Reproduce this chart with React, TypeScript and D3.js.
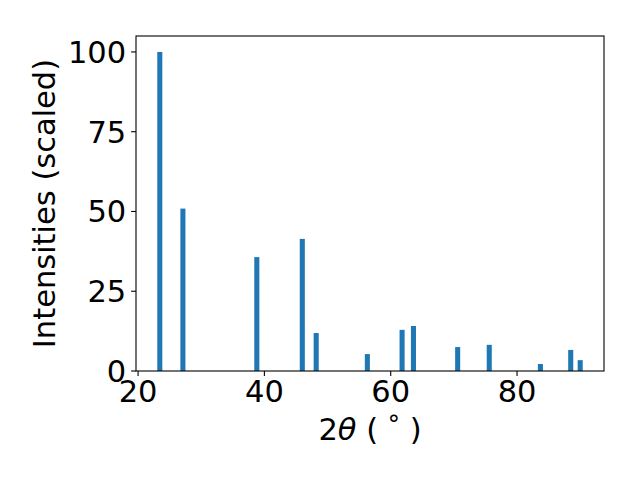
import React from "react";
import * as d3 from "d3";

const twoTheta: number[] = [23.44, 27.1, 38.8, 46.0, 48.2, 56.3, 61.8, 63.6, 70.6, 75.6, 83.7, 88.5, 90.0];
const intensities: number[] = [100, 50.9, 35.7, 41.4, 11.9, 5.3, 12.9, 14.1, 7.5, 8.2, 2.2, 6.6, 3.4];
const xTicks: number[] = [20, 40, 60, 80];
const yTicks: number[] = [0, 25, 50, 75, 100];

const W = 640, H = 480;
const left = 136, right = 604, top = 36, bottom = 371;
const barW = 0.8;
const FONT = "'DejaVu Sans', sans-serif";
const FS = 30.5;
const BLUE = "#1f77b4";

export default function App() {
  const dmin = (d3.min(twoTheta) as number) - barW / 2;
  const dmax = (d3.max(twoTheta) as number) + barW / 2;
  const pad = (dmax - dmin) * 0.05;
  const x = d3.scaleLinear().domain([dmin - pad, dmax + pad]).range([left, right]);
  const ymax = (d3.max(intensities) as number) * 1.05;
  const y = d3.scaleLinear().domain([0, ymax]).range([bottom, top]);

  return (
    <svg width={W} height={H} style={{ position: "absolute", left: 0, top: 0, background: "#fff" }}>
      <rect x={0} y={0} width={W} height={H} fill="#fff" />
      {twoTheta.map((t, i) => (
        <rect
          key={i}
          x={x(t - barW / 2)}
          width={x(t + barW / 2) - x(t - barW / 2)}
          y={y(intensities[i])}
          height={y(0) - y(intensities[i])}
          fill={BLUE}
        />
      ))}
      <rect x={left} y={top} width={right - left} height={bottom - top} fill="none" stroke="#000" strokeWidth={1.1} />
      {xTicks.map((t) => (
        <g key={t}>
          <line x1={x(t)} x2={x(t)} y1={bottom} y2={bottom + 4.9} stroke="#000" strokeWidth={1.1} />
          <text x={x(t)} y={402} textAnchor="middle" fontFamily={FONT} fontSize={FS} fill="#000">
            {t}
          </text>
        </g>
      ))}
      {yTicks.map((t) => (
        <g key={t}>
          <line x1={left - 4.9} x2={left} y1={y(t)} y2={y(t)} stroke="#000" strokeWidth={1.1} />
          <text x={left - 9.8} y={y(t) + 11} textAnchor="end" fontFamily={FONT} fontSize={FS} fill="#000">
            {t}
          </text>
        </g>
      ))}
      <text x={(left + right) / 2} y={440} textAnchor="middle" fontFamily={FONT} fontSize={FS} fill="#000">
        <tspan>2</tspan>
        <tspan fontStyle="italic">θ</tspan>
        <tspan> ( </tspan>
        <tspan fontSize={FS * 0.8} dy={-7}>°</tspan>
        <tspan dy={7}> )</tspan>
      </text>
      <text
        transform={`translate(55,${(top + bottom) / 2}) rotate(-90)`}
        textAnchor="middle"
        fontFamily={FONT}
        fontSize={FS}
        fill="#000"
      >
        Intensities (scaled)
      </text>
    </svg>
  );
}
